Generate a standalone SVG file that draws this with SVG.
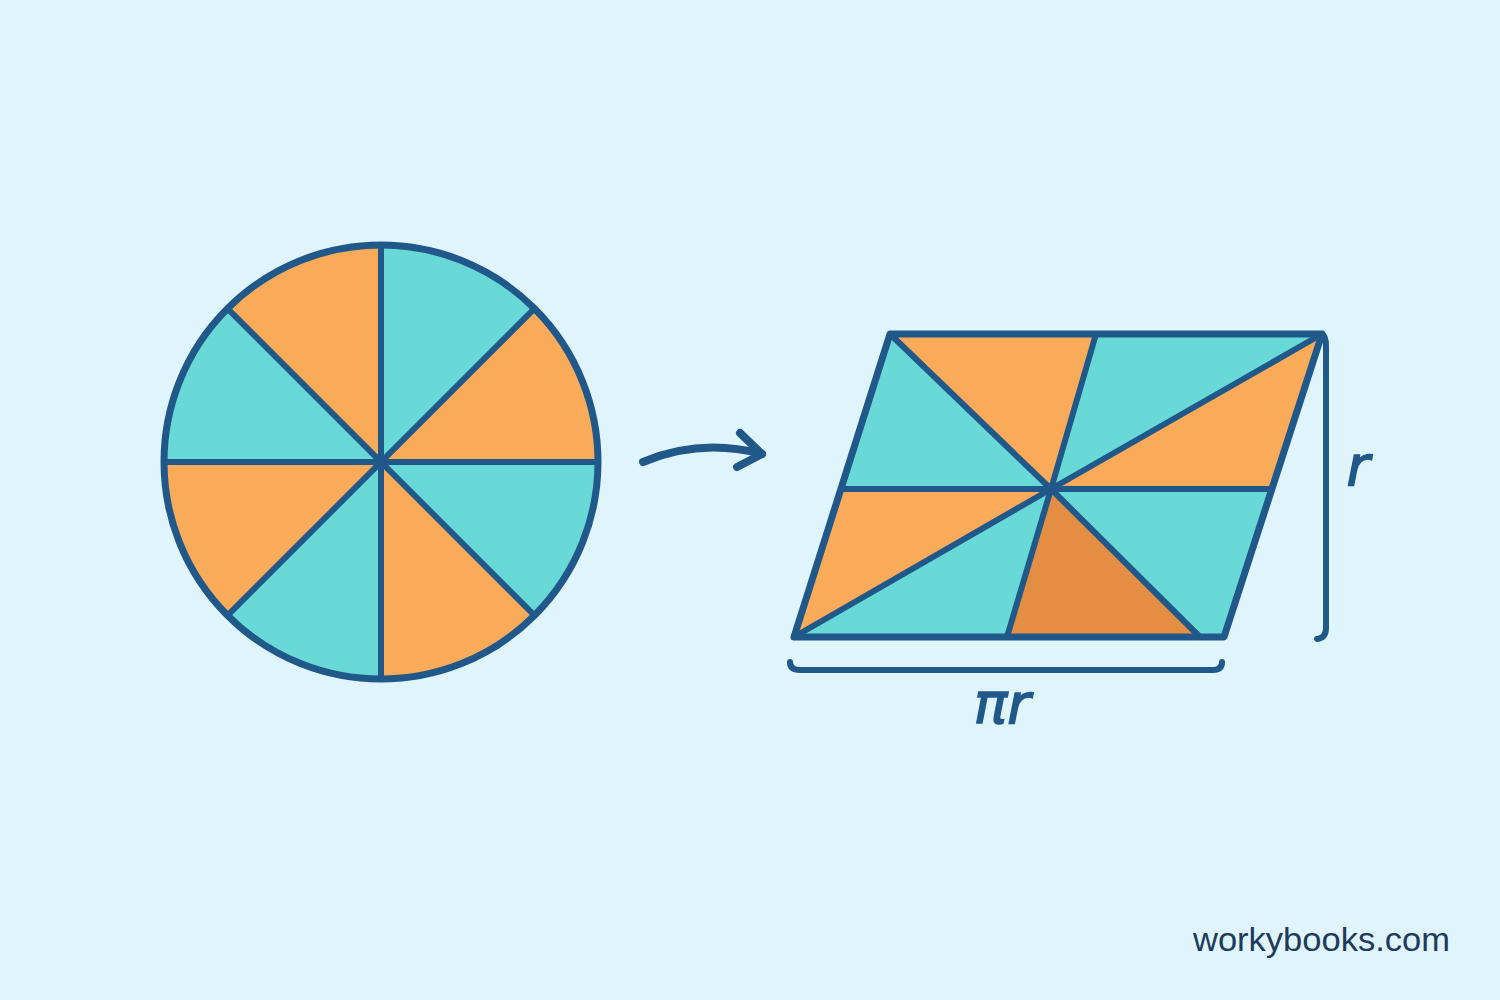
<svg xmlns="http://www.w3.org/2000/svg" width="1500" height="1000" viewBox="0 0 1500 1000">
<defs>
<style>
.teal{fill:#69D9D8}
.org{fill:#F9AB5A}
.dorg{fill:#E38E42}
.ln{stroke:#20588A;stroke-width:6;fill:none;stroke-linecap:round;stroke-linejoin:round}
.out{stroke:#20588A;stroke-width:7;fill:none;stroke-linecap:round;stroke-linejoin:round}
.arr{stroke:#20588A;stroke-width:8;fill:none;stroke-linecap:round;stroke-linejoin:round}
.lbl{font-family:"DejaVu Sans","Liberation Sans",sans-serif;font-style:italic;fill:#20588A;stroke:#20588A;stroke-width:1.5}
</style>
</defs>
<rect width="1500" height="1000" fill="#DFF5FB"/>
<g id="circle">
<path class="teal" d="M381,462 L381,245 A217,217 0 0 1 534.4,308.6 Z"/>
<path class="org" d="M381,462 L534.4,308.6 A217,217 0 0 1 598,462 Z"/>
<path class="teal" d="M381,462 L598,462 A217,217 0 0 1 534.4,615.4 Z"/>
<path class="org" d="M381,462 L534.4,615.4 A217,217 0 0 1 381,679 Z"/>
<path class="teal" d="M381,462 L381,679 A217,217 0 0 1 227.6,615.4 Z"/>
<path class="org" d="M381,462 L227.6,615.4 A217,217 0 0 1 164,462 Z"/>
<path class="teal" d="M381,462 L164,462 A217,217 0 0 1 227.6,308.6 Z"/>
<path class="org" d="M381,462 L227.6,308.6 A217,217 0 0 1 381,245 Z"/>
<path class="ln" d="M381,245 L381,679 M164,462 L598,462 M227.6,308.6 L534.4,615.4 M534.4,308.6 L227.6,615.4"/>
<circle class="out" cx="381" cy="462" r="217"/>
</g>
<g id="parallelogram">
<polygon class="teal" points="890,334 1051,489 841,489"/>
<polygon class="org" points="890,334 1096,334 1051,489"/>
<polygon class="teal" points="1096,334 1322,334 1051,489"/>
<polygon class="org" points="1322,334 1272,489 1051,489"/>
<polygon class="teal" points="1272,489 1224,637 1200,637 1051,489"/>
<polygon class="dorg" points="1051,489 1202,640 1008,640"/>
<polygon class="teal" points="1051,489 1007,637 794,637"/>
<polygon class="org" points="1051,489 794,637 841,489"/>
<path class="ln" d="M841,489 L1272,489 M890,334 L1051,489 M1096,334 L1051,489 M1322,334 L1051,489 M794,637 L1051,489 M1007,637 L1051,489 M1200,637 L1051,489"/>
<polygon class="out" points="890,334 1322,334 1224,637 794,637"/>
</g>
<g id="connectors">
<path class="arr" d="M643,462 Q700,438 762,454"/>
<path class="arr" d="M740,433 L762,454 L737,467"/>
<path class="ln" d="M1322,334 Q1326,336 1326,346 L1326,628 Q1326,638 1317,639"/>
<path class="ln" d="M790,662 Q790,670 800,670 L1213,670 Q1222,670 1222,662"/>
</g>
<g id="labels">
<text class="lbl" x="1002" y="723" font-size="56" text-anchor="middle">πr</text>
<text class="lbl" x="1358" y="485" font-size="56" text-anchor="middle">r</text>
<text x="1193" y="951" font-family="'Liberation Sans',sans-serif" font-size="33" fill="#1E3A5C" textLength="257" lengthAdjust="spacingAndGlyphs">workybooks.com</text>
</g>
</svg>
